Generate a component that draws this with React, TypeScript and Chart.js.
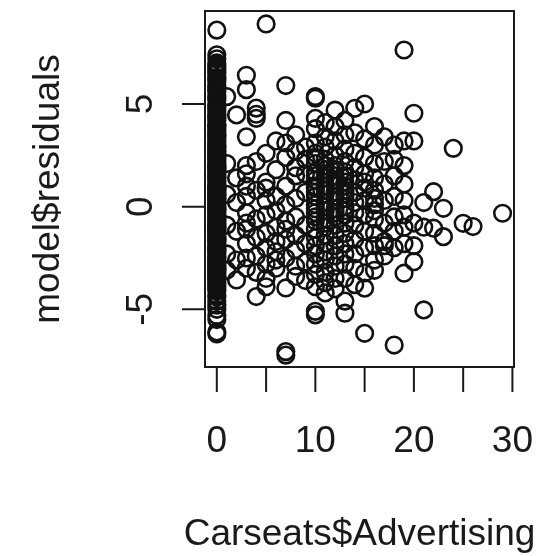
import React, { useEffect, useRef } from "react";
import { Chart, registerables } from "chart.js";

Chart.register(...registerables);

// Advertising budget (x) and model residual (y) for each store, grouped by budget.
const adv0 = [
  8.6, 7.4, 7.2, 7.0, 6.9, 6.8, 6.7, 6.6, 6.5, 6.3, 6.2, 6.1, 5.9, 5.8, 5.7, 5.6, 5.4, 5.3, 5.2, 5.0,
  4.9, 4.8, 4.7, 4.5, 4.4, 4.3, 4.2, 4.0, 3.95, 3.9, 3.8, 3.7, 3.6, 3.5, 3.45, 3.4, 3.3, 3.2, 3.1, 3.0,
  2.95, 2.9, 2.8, 2.7, 2.6, 2.5, 2.45, 2.4, 2.3, 2.2, 2.1, 2.0, 1.95, 1.9, 1.85, 1.8, 1.7, 1.6, 1.5, 1.45,
  1.4, 1.3, 1.2, 1.1, 1.0, 0.95, 0.9, 0.85, 0.8, 0.7, 0.6, 0.55, 0.5, 0.4, 0.35, 0.3, 0.2, 0.1, 0.0, -0.05,
  -0.1, -0.15, -0.2, -0.3, -0.4, -0.45, -0.5, -0.6, -0.65, -0.7, -0.8, -0.85, -0.9, -1.0, -1.05, -1.1, -1.2, -1.25, -1.3, -1.4,
  -1.5, -1.55, -1.6, -1.65, -1.7, -1.8, -1.9, -2.0, -2.05, -2.1, -2.15, -2.2, -2.3, -2.4, -2.45, -2.5, -2.6, -2.65, -2.7, -2.8,
  -2.9, -3.0, -3.05, -3.1, -3.2, -3.3, -3.4, -3.45, -3.5, -3.6, -3.7, -3.8, -3.9, -4.0, -4.1, -4.3, -4.4, -4.6, -4.8, -5.0,
  -5.3, -5.5, -6.1, -6.2,
];
const adv1 = [5.36, 2.1, 0.6, -0.9, -2.3, -3.1];
const adv2 = [4.47, 1.4, 0.2, -1.2, -2.6, -3.57];
const adv3 = [6.4, 5.7, 3.4, 2.0, 1.6, 1.0, 0.5, -0.3, -0.8, -1.1, -1.8, -2.5, -3.0];
const adv4 = [4.8, 4.5, 4.3, 2.2, 0.8, -0.6, -1.5, -2.4, -3.2, -4.38];
const adv5 = [8.9, 2.6, 1.2, 0.9, 0.3, -0.4, -1.3, -2.0, -2.8, -3.5, -3.9];
const adv6 = [3.2, 1.8, 0.5, -0.2, -1.0, -1.7, -2.2, -2.6, -3.0];
const adv7 = [5.9, 4.2, 3.1, 2.4, 1.0, 0.1, -0.7, -1.1, -1.6, -2.5, -3.96, -7.06, -7.23];
const adv8 = [3.5, 2.7, 1.9, 1.5, 0.4, -0.5, -1.4, -2.1, -2.9, -3.4];
const adv9 = [2.9, 2.3, 1.6, 0.7, -0.9, -1.8, -2.7, -3.6];
const adv10 = [
  5.36, 5.28, 4.3, 3.8, 3.1, 2.6, 2.4, 2.1, 1.7, 1.5, 1.3, 1.0, 0.9, 0.7, 0.5, 0.1, -0.1, -0.3, -0.5, -0.7,
  -1.1, -1.5, -1.9, -2.3, -2.8, -3.3, -3.9, -5.1, -5.27,
];
const adv11 = [
  4.1, 3.4, 2.9, 2.3, 2.0, 1.8, 1.6, 1.4, 1.0, 0.8, 0.6, 0.2, 0.0, -0.2, -0.6, -0.8, -1.0, -1.4, -1.8, -2.2,
  -2.6, -3.2, -3.7, -4.2,
];
const adv12 = [
  4.7, 3.9, 3.2, 2.5, 2.0, 1.8, 1.5, 1.3, 1.1, 0.7, 0.5, 0.3, -0.1, -0.3, -0.5, -0.9, -1.4, -1.9, -2.4, -2.9,
  -3.5, -4.0,
];
const adv13 = [
  4.2, 3.5, 2.8, 2.2, 1.7, 1.5, 1.2, 1.0, 0.8, 0.6, 0.4, 0.0, -0.2, -0.4, -0.8, -1.3, -1.8, -2.3, -2.8, -3.5,
  -4.6, -5.19,
];
const adv14 = [4.79, 3.6, 2.6, 1.9, 1.3, 0.7, 0.2, -0.3, -0.9, -1.6, -2.3, -3.0, -3.8];
const adv15 = [5.0, 3.3, 2.4, 1.6, 1.2, 0.9, 0.3, -0.4, -1.2, -2.0, -3.23, -3.97, -6.17];
const adv16 = [3.9, 3.0, 2.1, 1.4, 0.8, 0.4, 0.1, -0.2, -0.6, -1.3, -1.9, -2.6, -3.1];
const adv17 = [3.4, 2.2, 1.1, 0.3, -0.8, -1.7, -1.9, -2.4];
const adv18 = [3.0, 2.3, 1.5, 0.5, -0.5, -1.2, -2.0, -6.74];
const adv19 = [7.63, 3.2, 2.0, 1.1, 0.3, -0.4, -1.0, -1.8, -3.24];
const adv20 = [4.55, 3.2, -0.8, -1.9, -2.68];
const adv21 = [0.2, -1.0, -5.03];
const adv22 = [0.73, -1.05];
const adv23 = [-0.08, -1.46];
const adv24 = [2.84];
const adv25 = [-0.81];
const adv26 = [-0.97];
const adv29 = [-0.32];

const residualsByAdvertising: [number, number[]][] = [
  [0, adv0], [1, adv1], [2, adv2], [3, adv3], [4, adv4], [5, adv5], [6, adv6], [7, adv7],
  [8, adv8], [9, adv9], [10, adv10], [11, adv11], [12, adv12], [13, adv13], [14, adv14],
  [15, adv15], [16, adv16], [17, adv17], [18, adv18], [19, adv19], [20, adv20], [21, adv21],
  [22, adv22], [23, adv23], [24, adv24], [25, adv25], [26, adv26], [29, adv29],
];

const xTicks = [0, 5, 10, 15, 20, 25, 30];
const xTickLabels = ["0", "", "10", "", "20", "", "30"];
const yTicks = [-5, 0, 5];
const yTickLabels = ["-5", "0", "5"];

const xTitle = "Carseats$Advertising";
const yTitle = "model$residuals";

const FONT = '37px "Liberation Sans", Arial, Helvetica, sans-serif';
const INK = "#1a1a1a";

// Base-graphics style frame: box, outward ticks, parallel tick labels, axis titles.
const basePlotFrame = {
  id: "basePlotFrame",
  afterDraw(chart: any) {
    const { ctx, chartArea, scales } = chart;
    const xs = scales.x;
    const ys = scales.y;
    ctx.save();
    ctx.strokeStyle = INK;
    ctx.fillStyle = INK;
    ctx.lineWidth = 2;
    ctx.strokeRect(chartArea.left, chartArea.top, chartArea.right - chartArea.left, chartArea.bottom - chartArea.top);

    // x axis
    const xb = chartArea.bottom;
    ctx.beginPath();
    ctx.moveTo(xs.getPixelForValue(xTicks[0]), xb);
    ctx.lineTo(xs.getPixelForValue(xTicks[xTicks.length - 1]), xb);
    xTicks.forEach((t) => {
      const px = xs.getPixelForValue(t);
      ctx.moveTo(px, xb);
      ctx.lineTo(px, xb + 25);
    });
    ctx.stroke();
    ctx.font = FONT;
    ctx.textAlign = "center";
    ctx.textBaseline = "alphabetic";
    xTicks.forEach((t, i) => {
      if (xTickLabels[i]) ctx.fillText(xTickLabels[i], xs.getPixelForValue(t), 452);
    });

    // y axis
    const yl = chartArea.left;
    ctx.beginPath();
    ctx.moveTo(yl, ys.getPixelForValue(yTicks[0]));
    ctx.lineTo(yl, ys.getPixelForValue(yTicks[yTicks.length - 1]));
    yTicks.forEach((t) => {
      const py = ys.getPixelForValue(t);
      ctx.moveTo(yl, py);
      ctx.lineTo(yl - 23, py);
    });
    ctx.stroke();
    yTicks.forEach((t, i) => {
      ctx.save();
      ctx.translate(152, ys.getPixelForValue(t));
      ctx.rotate(-Math.PI / 2);
      ctx.fillText(yTickLabels[i], 0, 0);
      ctx.restore();
    });

    // titles
    ctx.fillText(xTitle, (chartArea.left + chartArea.right) / 2, 545);
    ctx.save();
    ctx.translate(59, (chartArea.top + chartArea.bottom) / 2);
    ctx.rotate(-Math.PI / 2);
    ctx.fillText(yTitle, 0, 0);
    ctx.restore();
    ctx.restore();
  },
};

export default function App() {
  const canvasRef = useRef<HTMLCanvasElement | null>(null);

  useEffect(() => {
    if (!canvasRef.current) return;
    const points = residualsByAdvertising.flatMap(([x, ys]) => ys.map((y) => ({ x, y })));
    const chart = new Chart(canvasRef.current, {
      type: "scatter",
      data: {
        datasets: [
          {
            data: points,
            pointStyle: "circle",
            pointRadius: 8.3,
            pointHoverRadius: 8.3,
            pointBorderWidth: 2.6,
            borderColor: "#111",
            backgroundColor: "rgba(0,0,0,0)",
          },
        ],
      },
      options: {
        responsive: false,
        animation: false,
        events: [],
        layout: { padding: { left: 205, top: 11, right: 37, bottom: 189 } },
        plugins: { legend: { display: false }, tooltip: { enabled: false } },
        scales: {
          x: { type: "linear", min: -1.2, max: 30.16, display: false },
          y: { type: "linear", min: -7.81, max: 9.53, display: false },
        },
      },
      plugins: [basePlotFrame],
    });
    return () => chart.destroy();
  }, []);

  return (
    <div style={{ position: "fixed", left: 0, top: 0, width: 551, height: 556, background: "#fff" }}>
      <canvas ref={canvasRef} width={551} height={556} />
    </div>
  );
}
